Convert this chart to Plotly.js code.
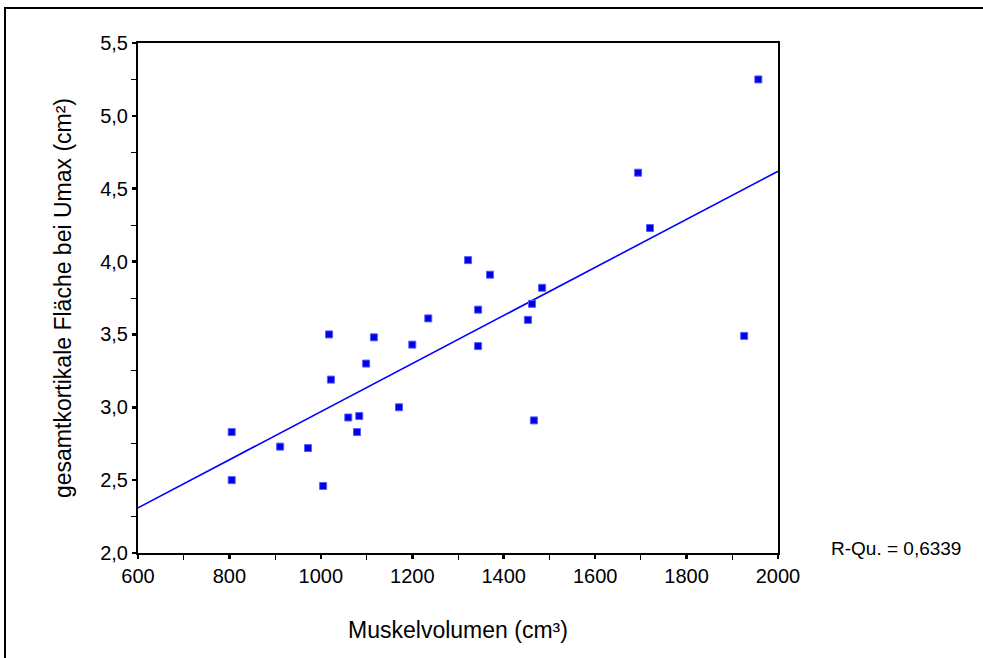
<!DOCTYPE html>
<html>
<head>
<meta charset="utf-8">
<script src="https://cdn.plot.ly/plotly-3.0.1.min.js"></script>
<style>
  html, body { margin: 0; padding: 0; background: #ffffff; }
  #chart { width: 983px; height: 658px; }
</style>
</head>
<body>
<div id="chart"></div>
<script>
// Muskelvolumen (cm³)
const muskelvolumen = [805, 805, 911, 972, 1005, 1018, 1022, 1060, 1079, 1084, 1099, 1116, 1171, 1200, 1235, 1322, 1344, 1344, 1370, 1453, 1462, 1466, 1484, 1694, 1720, 1926, 1957];
// gesamtkortikale Fläche bei Umax (cm²)
const flaeche = [2.83, 2.50, 2.73, 2.72, 2.46, 3.50, 3.19, 2.93, 2.83, 2.94, 3.30, 3.48, 3.00, 3.43, 3.61, 4.01, 3.67, 3.42, 3.91, 3.60, 3.71, 2.91, 3.82, 4.61, 4.23, 3.49, 5.25];
// linear fit line (endpoints at axis limits)
const fitX = [600, 2000];
const fitY = [2.31, 4.62];
const rSquaredText = "R-Qu. = 0,6339";
const xTitle = "Muskelvolumen (cm³)";
const yTitle = "gesamtkortikale Fläche bei Umax (cm²)";

const font = "Liberation Sans, Arial, sans-serif";

const traces = [
  {
    x: fitX, y: fitY, type: "scatter", mode: "lines",
    line: { color: "#0000ff", width: 1.6 },
    hoverinfo: "skip", showlegend: false
  },
  {
    x: muskelvolumen, y: flaeche, type: "scatter", mode: "markers",
    marker: { symbol: "square", size: 7, color: "#0000e6", line: { color: "#5a5aff", width: 1 } },
    showlegend: false
  }
];

const layout = {
  width: 983, height: 658,
  margin: { l: 138, r: 205, t: 43, b: 105, pad: 0 },
  paper_bgcolor: "#ffffff", plot_bgcolor: "#ffffff",
  separators: ", ",
  font: { family: font, color: "#000000", size: 20 },
  showlegend: false,
  xaxis: {
    range: [600, 2000], autorange: false,
    tickmode: "linear", tick0: 600, dtick: 200,
    ticks: "outside", ticklen: 4, tickwidth: 2.5, tickcolor: "#000",
    minor: { ticks: "outside", dtick: 100, ticklen: 5, tickwidth: 1, tickcolor: "#000" },
    showline: true, linecolor: "#000", linewidth: 2, mirror: true,
    showgrid: false, zeroline: false,
    tickfont: { family: font, size: 20, color: "#000" },
    title: { text: xTitle, font: { family: font, size: 23, color: "#000" }, standoff: 36 },
    automargin: false
  },
  yaxis: {
    range: [2.0, 5.5], autorange: false,
    tickmode: "linear", tick0: 2.0, dtick: 0.5, tickformat: ".1f",
    ticks: "outside", ticklen: 4, tickwidth: 2.5, tickcolor: "#000",
    minor: { ticks: "outside", dtick: 0.25, ticklen: 5, tickwidth: 1, tickcolor: "#000" },
    showline: true, linecolor: "#000", linewidth: 2, mirror: true,
    showgrid: false, zeroline: false,
    tickfont: { family: font, size: 20, color: "#000" },
    title: { text: yTitle, font: { family: font, size: 23, color: "#000" }, standoff: 22 },
    automargin: false
  },
  annotations: [
    {
      text: rSquaredText, xref: "paper", yref: "paper",
      x: (829 - 138) / 640, y: (553 - 548) / 510,
      xanchor: "left", yanchor: "middle", showarrow: false,
      font: { family: font, size: 19, color: "#000" }
    }
  ],
  shapes: [
    {
      type: "rect", xref: "paper", yref: "paper",
      x0: (5 - 138) / 640, x1: (995 - 138) / 640,
      y0: (553 - 670) / 510, y1: (553 - 8) / 510,
      line: { color: "#000", width: 2 }, fillcolor: "rgba(0,0,0,0)", layer: "below"
    }
  ]
};

Plotly.newPlot("chart", traces, layout, { displayModeBar: false, staticPlot: true });
</script>
</body>
</html>
